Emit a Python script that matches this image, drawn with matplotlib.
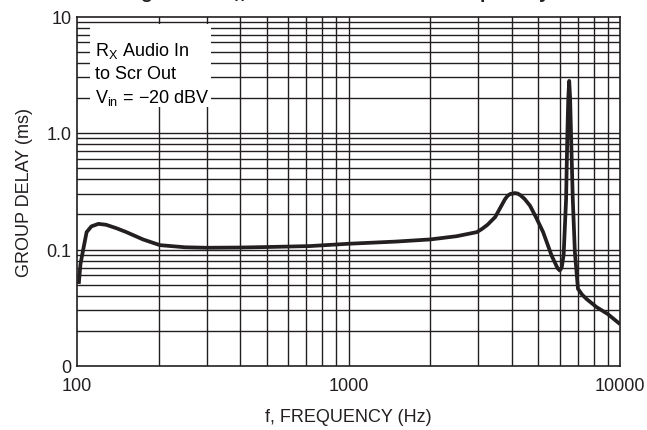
import numpy as np
import matplotlib
matplotlib.use('Agg')
import matplotlib.pyplot as plt
from matplotlib.patches import Rectangle

plt.rcParams['font.family'] = ['Liberation Sans Narrow', 'Liberation Sans', 'DejaVu Sans']
plt.rcParams['mathtext.fontset'] = 'custom'
plt.rcParams['mathtext.rm'] = 'Liberation Sans'

# data (Hz, ms)
freq = [101.5, 103, 105.5, 108.5, 113, 120, 128, 140, 152, 175, 202, 250, 300,
        400, 500, 720, 1000, 1500, 2000, 2500, 2970, 3100, 3250, 3470, 3600,
        3770, 3860, 3950, 4100, 4200, 4300, 4450, 4660, 4900, 5210, 5600, 5890,
        6000, 6100, 6200, 6330, 6400, 6450, 6500, 6550, 6600, 6700, 6820, 7000,
        7250, 7530, 8200, 9000, 10000]
delay = [0.0506, 0.075, 0.101, 0.141, 0.158, 0.166, 0.163, 0.152, 0.141, 0.122,
         0.109, 0.1045, 0.1035, 0.104, 0.105, 0.107, 0.112, 0.117, 0.122, 0.130,
         0.141, 0.150, 0.163, 0.190, 0.222, 0.270, 0.290, 0.300, 0.305, 0.302,
         0.292, 0.272, 0.238, 0.190, 0.141, 0.0885, 0.069, 0.066, 0.070, 0.090,
         0.270, 1.0, 2.0, 2.8, 2.0, 1.0, 0.27, 0.095, 0.046, 0.041, 0.0376,
         0.032, 0.028, 0.0229]

xticks = [100, 1000, 10000]
xticklabels = ['100', '1000', '10000']
yticks = [0.01, 0.1, 1.0, 10]
yticklabels = ['0', '0.1', '1.0', '10']

fig = plt.figure(figsize=(6.47, 4.31), dpi=100)
ax = fig.add_axes([77/647, 1-367/431, 543/647, 349.5/431])

ax.set_xscale('log')
ax.set_yscale('log')
ax.set_xlim(100, 10000)
ax.set_ylim(0.01, 10)

# grid: every integer multiple within each decade
gc = '#231f20'
for dec in [100, 1000]:
    for m in range(1, 10):
        if dec*m > 100:
            ax.axvline(dec*m, color=gc, lw=1.0, zorder=1)
for dec in [0.01, 0.1, 1.0]:
    for m in range(1, 10):
        if dec*m > 0.01:
            ax.axhline(dec*m, color=gc, lw=1.0, zorder=1)

# white panel behind the note
ax.add_patch(Rectangle((0.024, 0.741), 0.223, 0.2375, transform=ax.transAxes,
                       facecolor='white', edgecolor='none', zorder=2))
ax.text(0.033, 0.905, r'R$_\mathregular{X}$ Audio In', transform=ax.transAxes,
        fontsize=13, va='center', zorder=3)
ax.text(0.033, 0.838, 'to Scr Out', transform=ax.transAxes,
        fontsize=13, va='center', zorder=3)
ax.text(0.033, 0.770, 'V$_\\mathregular{in}$ = \u221220 dBV',
        transform=ax.transAxes, fontsize=13, va='center', zorder=3)

ax.plot(freq, delay, color='#231f20', lw=2.7, zorder=4,
        solid_joinstyle='round', solid_capstyle='butt')

ax.set_xticks(xticks)
ax.set_xticklabels(xticklabels)
ax.set_yticks(yticks)
ax.set_yticklabels(yticklabels)
ax.minorticks_off()
ax.tick_params(axis='x', length=0, labelsize=13, pad=8, colors='#231f20')
ax.tick_params(axis='y', length=0, labelsize=13, pad=4, colors='#231f20')
for s in ax.spines.values():
    s.set_color(gc)
    s.set_linewidth(1.2)

ax.set_xlabel('f, FREQUENCY (Hz)', fontsize=13, labelpad=10, color='#231f20')
ax.set_ylabel('GROUP DELAY (ms)', fontsize=13, labelpad=10, color='#231f20')

fig.text(0.52, 1.0 + 2/431, r'Figure 12. R$_\mathregular{X}$ Audio In to Scr Out Group Delay',
         ha='center', va='baseline', fontsize=14, fontweight='bold', color='#231f20')

fig.savefig('out.png', dpi=100)
